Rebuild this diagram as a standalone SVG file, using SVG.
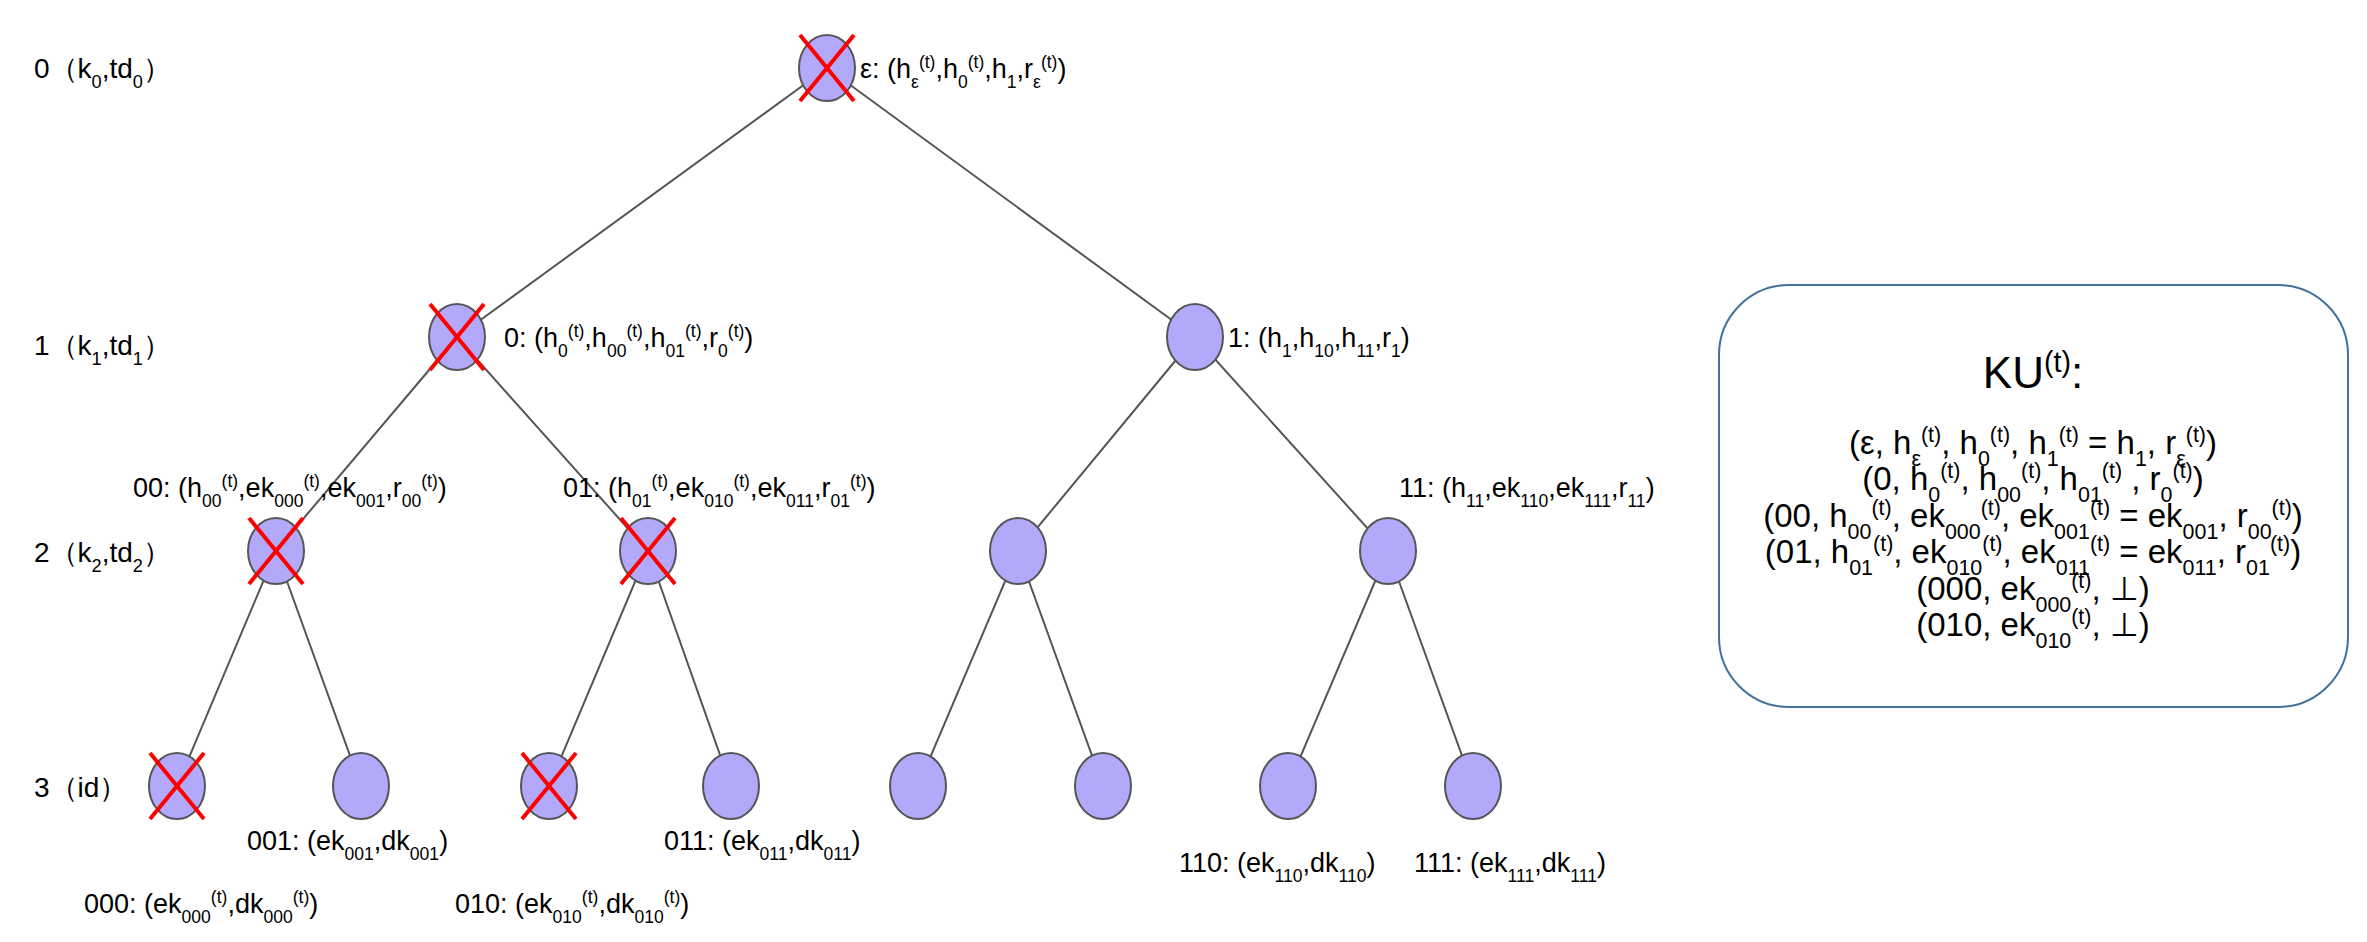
<svg xmlns="http://www.w3.org/2000/svg" width="2367" height="942" viewBox="0 0 2367 942">
<style>
text{font-family:"Liberation Sans",Arial,sans-serif;fill:#000}
.lv{font-size:28px}
.lb{font-size:27px}
.ku{font-size:33px}
.b{font-size:65%;baseline-shift:sub}
.p{font-size:65%;baseline-shift:super}
.n{fill:#b3a9fb;stroke:#555;stroke-width:2}
.e{stroke:#555;stroke-width:2;fill:none}
.x{stroke:#f00;stroke-width:4}
</style>
<defs>
<g id="cr"><line class="x" x1="-27" y1="-33" x2="27" y2="33"/><line class="x" x1="27" y1="-33" x2="-27" y2="33"/></g>
</defs>
<g id="connectors">
<line class="e" x1="827" y1="68" x2="457" y2="337"/>
<line class="e" x1="827" y1="68" x2="1195" y2="337"/>
<line class="e" x1="457" y1="337" x2="276" y2="551"/>
<line class="e" x1="457" y1="337" x2="648" y2="551"/>
<line class="e" x1="1195" y1="337" x2="1018" y2="551"/>
<line class="e" x1="1195" y1="337" x2="1388" y2="551"/>
<line class="e" x1="276" y1="551" x2="177" y2="786"/>
<line class="e" x1="276" y1="551" x2="361" y2="786"/>
<line class="e" x1="648" y1="551" x2="549" y2="786"/>
<line class="e" x1="648" y1="551" x2="731" y2="786"/>
<line class="e" x1="1018" y1="551" x2="918" y2="786"/>
<line class="e" x1="1018" y1="551" x2="1103" y2="786"/>
<line class="e" x1="1388" y1="551" x2="1288" y2="786"/>
<line class="e" x1="1388" y1="551" x2="1473" y2="786"/>
</g>
<g id="levels" class="lv">
<text x="34" y="78">0（k<tspan class="b">0</tspan>,td<tspan class="b">0</tspan>）</text>
<text x="34" y="355">1（k<tspan class="b">1</tspan>,td<tspan class="b">1</tspan>）</text>
<text x="34" y="562">2（k<tspan class="b">2</tspan>,td<tspan class="b">2</tspan>）</text>
<text x="34" y="797">3（id）</text>
</g>
<g id="n-root"><ellipse class="n" cx="827" cy="68" rx="28" ry="33"/><use href="#cr" x="827" y="68"/>
<text class="lb" x="860" y="78">ε: (h<tspan class="b">ε</tspan><tspan class="p">(t)</tspan>,h<tspan class="b">0</tspan><tspan class="p">(t)</tspan>,h<tspan class="b">1</tspan>,r<tspan class="b">ε</tspan><tspan class="p">(t)</tspan>)</text></g>
<g id="n-0"><ellipse class="n" cx="457" cy="337" rx="28" ry="33"/><use href="#cr" x="457" y="337"/>
<text class="lb" x="504" y="347">0: (h<tspan class="b">0</tspan><tspan class="p">(t)</tspan>,h<tspan class="b">00</tspan><tspan class="p">(t)</tspan>,h<tspan class="b">01</tspan><tspan class="p">(t)</tspan>,r<tspan class="b">0</tspan><tspan class="p">(t)</tspan>)</text></g>
<g id="n-1"><ellipse class="n" cx="1195" cy="337" rx="28" ry="33"/>
<text class="lb" x="1228" y="347">1: (h<tspan class="b">1</tspan>,h<tspan class="b">10</tspan>,h<tspan class="b">11</tspan>,r<tspan class="b">1</tspan>)</text></g>
<g id="n-00"><ellipse class="n" cx="276" cy="551" rx="28" ry="33"/><use href="#cr" x="276" y="551"/>
<text class="lb" x="133" y="497">00: (h<tspan class="b">00</tspan><tspan class="p">(t)</tspan>,ek<tspan class="b">000</tspan><tspan class="p">(t)</tspan>,ek<tspan class="b">001</tspan>,r<tspan class="b">00</tspan><tspan class="p">(t)</tspan>)</text></g>
<g id="n-01"><ellipse class="n" cx="648" cy="551" rx="28" ry="33"/><use href="#cr" x="648" y="551"/>
<text class="lb" x="563" y="497">01: (h<tspan class="b">01</tspan><tspan class="p">(t)</tspan>,ek<tspan class="b">010</tspan><tspan class="p">(t)</tspan>,ek<tspan class="b">011</tspan>,r<tspan class="b">01</tspan><tspan class="p">(t)</tspan>)</text></g>
<g id="n-10"><ellipse class="n" cx="1018" cy="551" rx="28" ry="33"/></g>
<g id="n-11"><ellipse class="n" cx="1388" cy="551" rx="28" ry="33"/>
<text class="lb" x="1399" y="497">11: (h<tspan class="b">11</tspan>,ek<tspan class="b">110</tspan>,ek<tspan class="b">111</tspan>,r<tspan class="b">11</tspan>)</text></g>
<g id="n-000"><ellipse class="n" cx="177" cy="786" rx="28" ry="33"/><use href="#cr" x="177" y="786"/>
<text class="lb" x="84" y="913">000: (ek<tspan class="b">000</tspan><tspan class="p">(t)</tspan>,dk<tspan class="b">000</tspan><tspan class="p">(t)</tspan>)</text></g>
<g id="n-001"><ellipse class="n" cx="361" cy="786" rx="28" ry="33"/>
<text class="lb" x="247" y="850">001: (ek<tspan class="b">001</tspan>,dk<tspan class="b">001</tspan>)</text></g>
<g id="n-010"><ellipse class="n" cx="549" cy="786" rx="28" ry="33"/><use href="#cr" x="549" y="786"/>
<text class="lb" x="455" y="913">010: (ek<tspan class="b">010</tspan><tspan class="p">(t)</tspan>,dk<tspan class="b">010</tspan><tspan class="p">(t)</tspan>)</text></g>
<g id="n-011"><ellipse class="n" cx="731" cy="786" rx="28" ry="33"/>
<text class="lb" x="664" y="850">011: (ek<tspan class="b">011</tspan>,dk<tspan class="b">011</tspan>)</text></g>
<g id="n-100"><ellipse class="n" cx="918" cy="786" rx="28" ry="33"/></g>
<g id="n-101"><ellipse class="n" cx="1103" cy="786" rx="28" ry="33"/></g>
<g id="n-110"><ellipse class="n" cx="1288" cy="786" rx="28" ry="33"/>
<text class="lb" x="1179" y="872">110: (ek<tspan class="b">110</tspan>,dk<tspan class="b">110</tspan>)</text></g>
<g id="n-111"><ellipse class="n" cx="1473" cy="786" rx="28" ry="33"/>
<text class="lb" x="1414" y="872">111: (ek<tspan class="b">111</tspan>,dk<tspan class="b">111</tspan>)</text></g>
<g id="ku-box">
<rect x="1719" y="285" width="629" height="422" rx="70" fill="#fff" stroke="#41719c" stroke-width="2"/>
<text x="2033" y="388" font-size="44" text-anchor="middle">KU<tspan class="p">(t)</tspan>:</text>
<g class="ku" text-anchor="middle">
<text x="2033" y="454">(ε, h<tspan class="b">ε</tspan><tspan class="p">(t)</tspan>, h<tspan class="b">0</tspan><tspan class="p">(t)</tspan>, h<tspan class="b">1</tspan><tspan class="p">(t)</tspan> = h<tspan class="b">1</tspan>, r<tspan class="b">ε</tspan><tspan class="p">(t)</tspan>)</text>
<text x="2033" y="490">(0, h<tspan class="b">0</tspan><tspan class="p">(t)</tspan>, h<tspan class="b">00</tspan><tspan class="p">(t)</tspan>, h<tspan class="b">01</tspan><tspan class="p">(t)</tspan> , r<tspan class="b">0</tspan><tspan class="p">(t)</tspan>)</text>
<text x="2033" y="527">(00, h<tspan class="b">00</tspan><tspan class="p">(t)</tspan>, ek<tspan class="b">000</tspan><tspan class="p">(t)</tspan>, ek<tspan class="b">001</tspan><tspan class="p">(t)</tspan> = ek<tspan class="b">001</tspan>, r<tspan class="b">00</tspan><tspan class="p">(t)</tspan>)</text>
<text x="2033" y="563">(01, h<tspan class="b">01</tspan><tspan class="p">(t)</tspan>, ek<tspan class="b">010</tspan><tspan class="p">(t)</tspan>, ek<tspan class="b">011</tspan><tspan class="p">(t)</tspan> = ek<tspan class="b">011</tspan>, r<tspan class="b">01</tspan><tspan class="p">(t)</tspan>)</text>
<text x="2033" y="600">(000, ek<tspan class="b">000</tspan><tspan class="p">(t)</tspan>, ⊥)</text>
<text x="2033" y="636">(010, ek<tspan class="b">010</tspan><tspan class="p">(t)</tspan>, ⊥)</text>
</g>
</g>
</svg>
